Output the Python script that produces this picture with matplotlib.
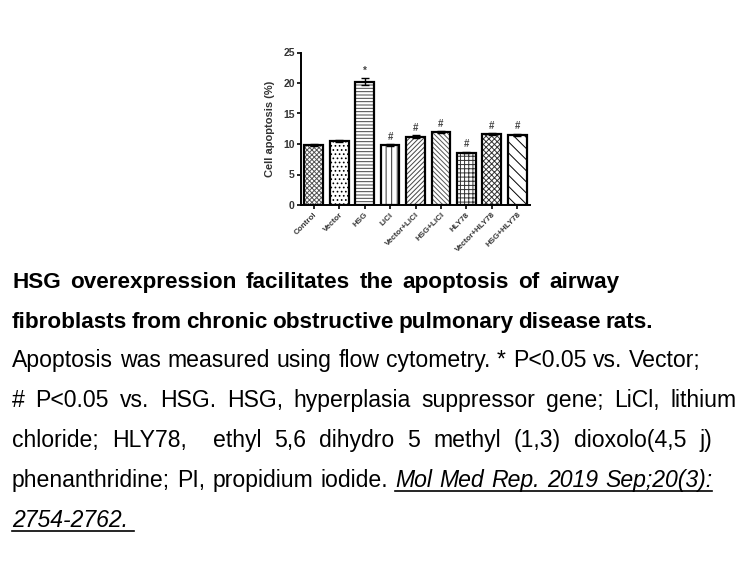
import re
import matplotlib
matplotlib.use("Agg")
import matplotlib.pyplot as plt
from matplotlib.lines import Line2D

categories = ["Control", "Vector", "HSG", "LiCl", "Vector+LiCl", "HSG+LiCl",
              "HLY78", "Vector+HLY78", "HSG+HLY78"]
values = [9.8, 10.5, 20.2, 9.8, 11.2, 11.9, 8.6, 11.6, 11.5]
errors = [0.2, 0.15, 0.6, 0.15, 0.2, 0.15, 0.15, 0.2, 0.15]
marks = ["", "", "*", "#", "#", "#", "#", "#", "#"]
yticks = [0, 5, 10, 15, 20, 25]

hatches = ["xxxxxxx", "....", "-----", "|||", "///////", "\\\\\\\\\\\\\\", "++++", "xxxxxx", "\\\\\\"]
hatch_colors = ["#555555", "black", "#444444", "#333333", "#444444", "#555555", "#333333", "#333333", "black"]

W, H = 756, 567
fig = plt.figure(figsize=(W / 100, H / 100), dpi=100)
plt.rcParams['hatch.linewidth'] = 0.7

ax = fig.add_axes([301 / W, (H - 205) / H, 229 / W, 152.5 / H])
x = list(range(len(categories)))
for i in x:
    ax.bar(i, values[i], width=0.74, color="white", hatch=hatches[i],
           edgecolor=hatch_colors[i], linewidth=0, zorder=2)
ax.bar(x, values, width=0.74, color="none", edgecolor="black", linewidth=1.6, zorder=3)
ax.errorbar(x, values, yerr=errors, fmt="none", ecolor="black", elinewidth=1.0,
            capsize=3, capthick=1.0, zorder=4)
for i in x:
    if marks[i]:
        ax.text(i, values[i] + errors[i] + 0.4, marks[i], ha="center", va="bottom",
                fontsize=7, fontweight="bold", family="Liberation Sans", color="#444444")

ax.set_xlim(-0.5, 8.5)
ax.set_ylim(0, 25)
ax.set_yticks(yticks)
ax.set_yticklabels([str(t) for t in yticks], fontsize=7.5, fontweight="bold",
                   family="Liberation Sans", color="#333333")
ax.set_xticks(x)
ax.set_xticklabels(categories, rotation=45, ha="right", rotation_mode="anchor",
                   fontsize=5.8, fontweight="bold", family="Liberation Sans", color="#333333")
ax.tick_params(axis="both", direction="out", length=3, width=1.2, pad=1.5)
for s in ["top", "right"]:
    ax.spines[s].set_visible(False)
for s in ["left", "bottom"]:
    ax.spines[s].set_linewidth(1.4)
ax.set_ylabel("Cell apoptosis (%)", fontsize=8, fontweight="bold",
              family="Liberation Sans", color="#333333", labelpad=6)

# ---------------- caption ----------------
fam = "Liberation Sans"
BOLD = dict(fontweight="bold", fontsize=16.2)
NORM = dict(fontsize=16.6)
ITAL = dict(style="italic", fontsize=16.6)
caption = [
    [("HSG overexpression facilitates the apoptosis of airway", BOLD, False)],
    [("fibroblasts from chronic obstructive pulmonary disease rats.", BOLD, False)],
    [("Apoptosis was measured using flow cytometry. * P<0.05 vs. Vector;", NORM, False)],
    [("# P<0.05 vs. HSG. HSG, hyperplasia suppressor gene; LiCl, lithium", NORM, False)],
    [("chloride; HLY78,  ethyl 5,6 dihydro 5 methyl (1,3) dioxolo(4,5 j)", NORM, False)],
    [("phenanthridine; PI, propidium iodide.", NORM, False),
     ("Mol Med Rep. 2019 Sep;20(3):", ITAL, True)],
    [("2754-2762.", ITAL, True)],
]
baselines = [288, 328, 367, 407, 447, 487, 527]
line_ends = [619, 653, 701, 737, 712, 712, None]
x_left = 12

renderer = fig.canvas.get_renderer()


def mk(xp, yp, s, style):
    return fig.text(xp / W, (H - yp) / H, s, family=fam,
                    va="baseline", ha="left", **style)


for segs, b, end in zip(caption, baselines, line_ends):
    tokens = []
    first = True
    for text, style, ul in segs:
        for m in re.finditer(r"(\s*)(\S+)", text):
            nsp = len(m.group(1))
            if not first and nsp == 0 and m.start() == 0:
                nsp = 1
            tokens.append([m.group(2), style, ul, 0 if first else nsp])
            first = False
    arts = []
    widths = []
    for tok in tokens:
        t = mk(0, b, tok[0], tok[1])
        arts.append(t)
        widths.append(t.get_window_extent(renderer).width)
    nsp_total = sum(t[3] for t in tokens)
    sp = mk(0, b, "a a", NORM)
    sp2 = mk(0, b, "aa", NORM)
    space_w = sp.get_window_extent(renderer).width - sp2.get_window_extent(renderer).width
    sp.remove()
    sp2.remove()
    if end is not None and nsp_total > 0:
        gap = (end - x_left - sum(widths)) / nsp_total
    else:
        gap = space_w
    xp = x_left
    ul_start = None
    ul_end = None
    for tok, art, w in zip(tokens, arts, widths):
        xp += tok[3] * gap
        art.set_x(xp / W)
        if tok[2]:
            if ul_start is None:
                ul_start = xp
            ul_end = xp + w
        xp += w
    if ul_start is not None:
        if end is None:
            ul_end += gap
        uy = (H - b - 4) / H
        fig.add_artist(Line2D([ul_start / W, ul_end / W], [uy, uy], color="black", linewidth=1.2))

fig.savefig("out.png", dpi=100)
